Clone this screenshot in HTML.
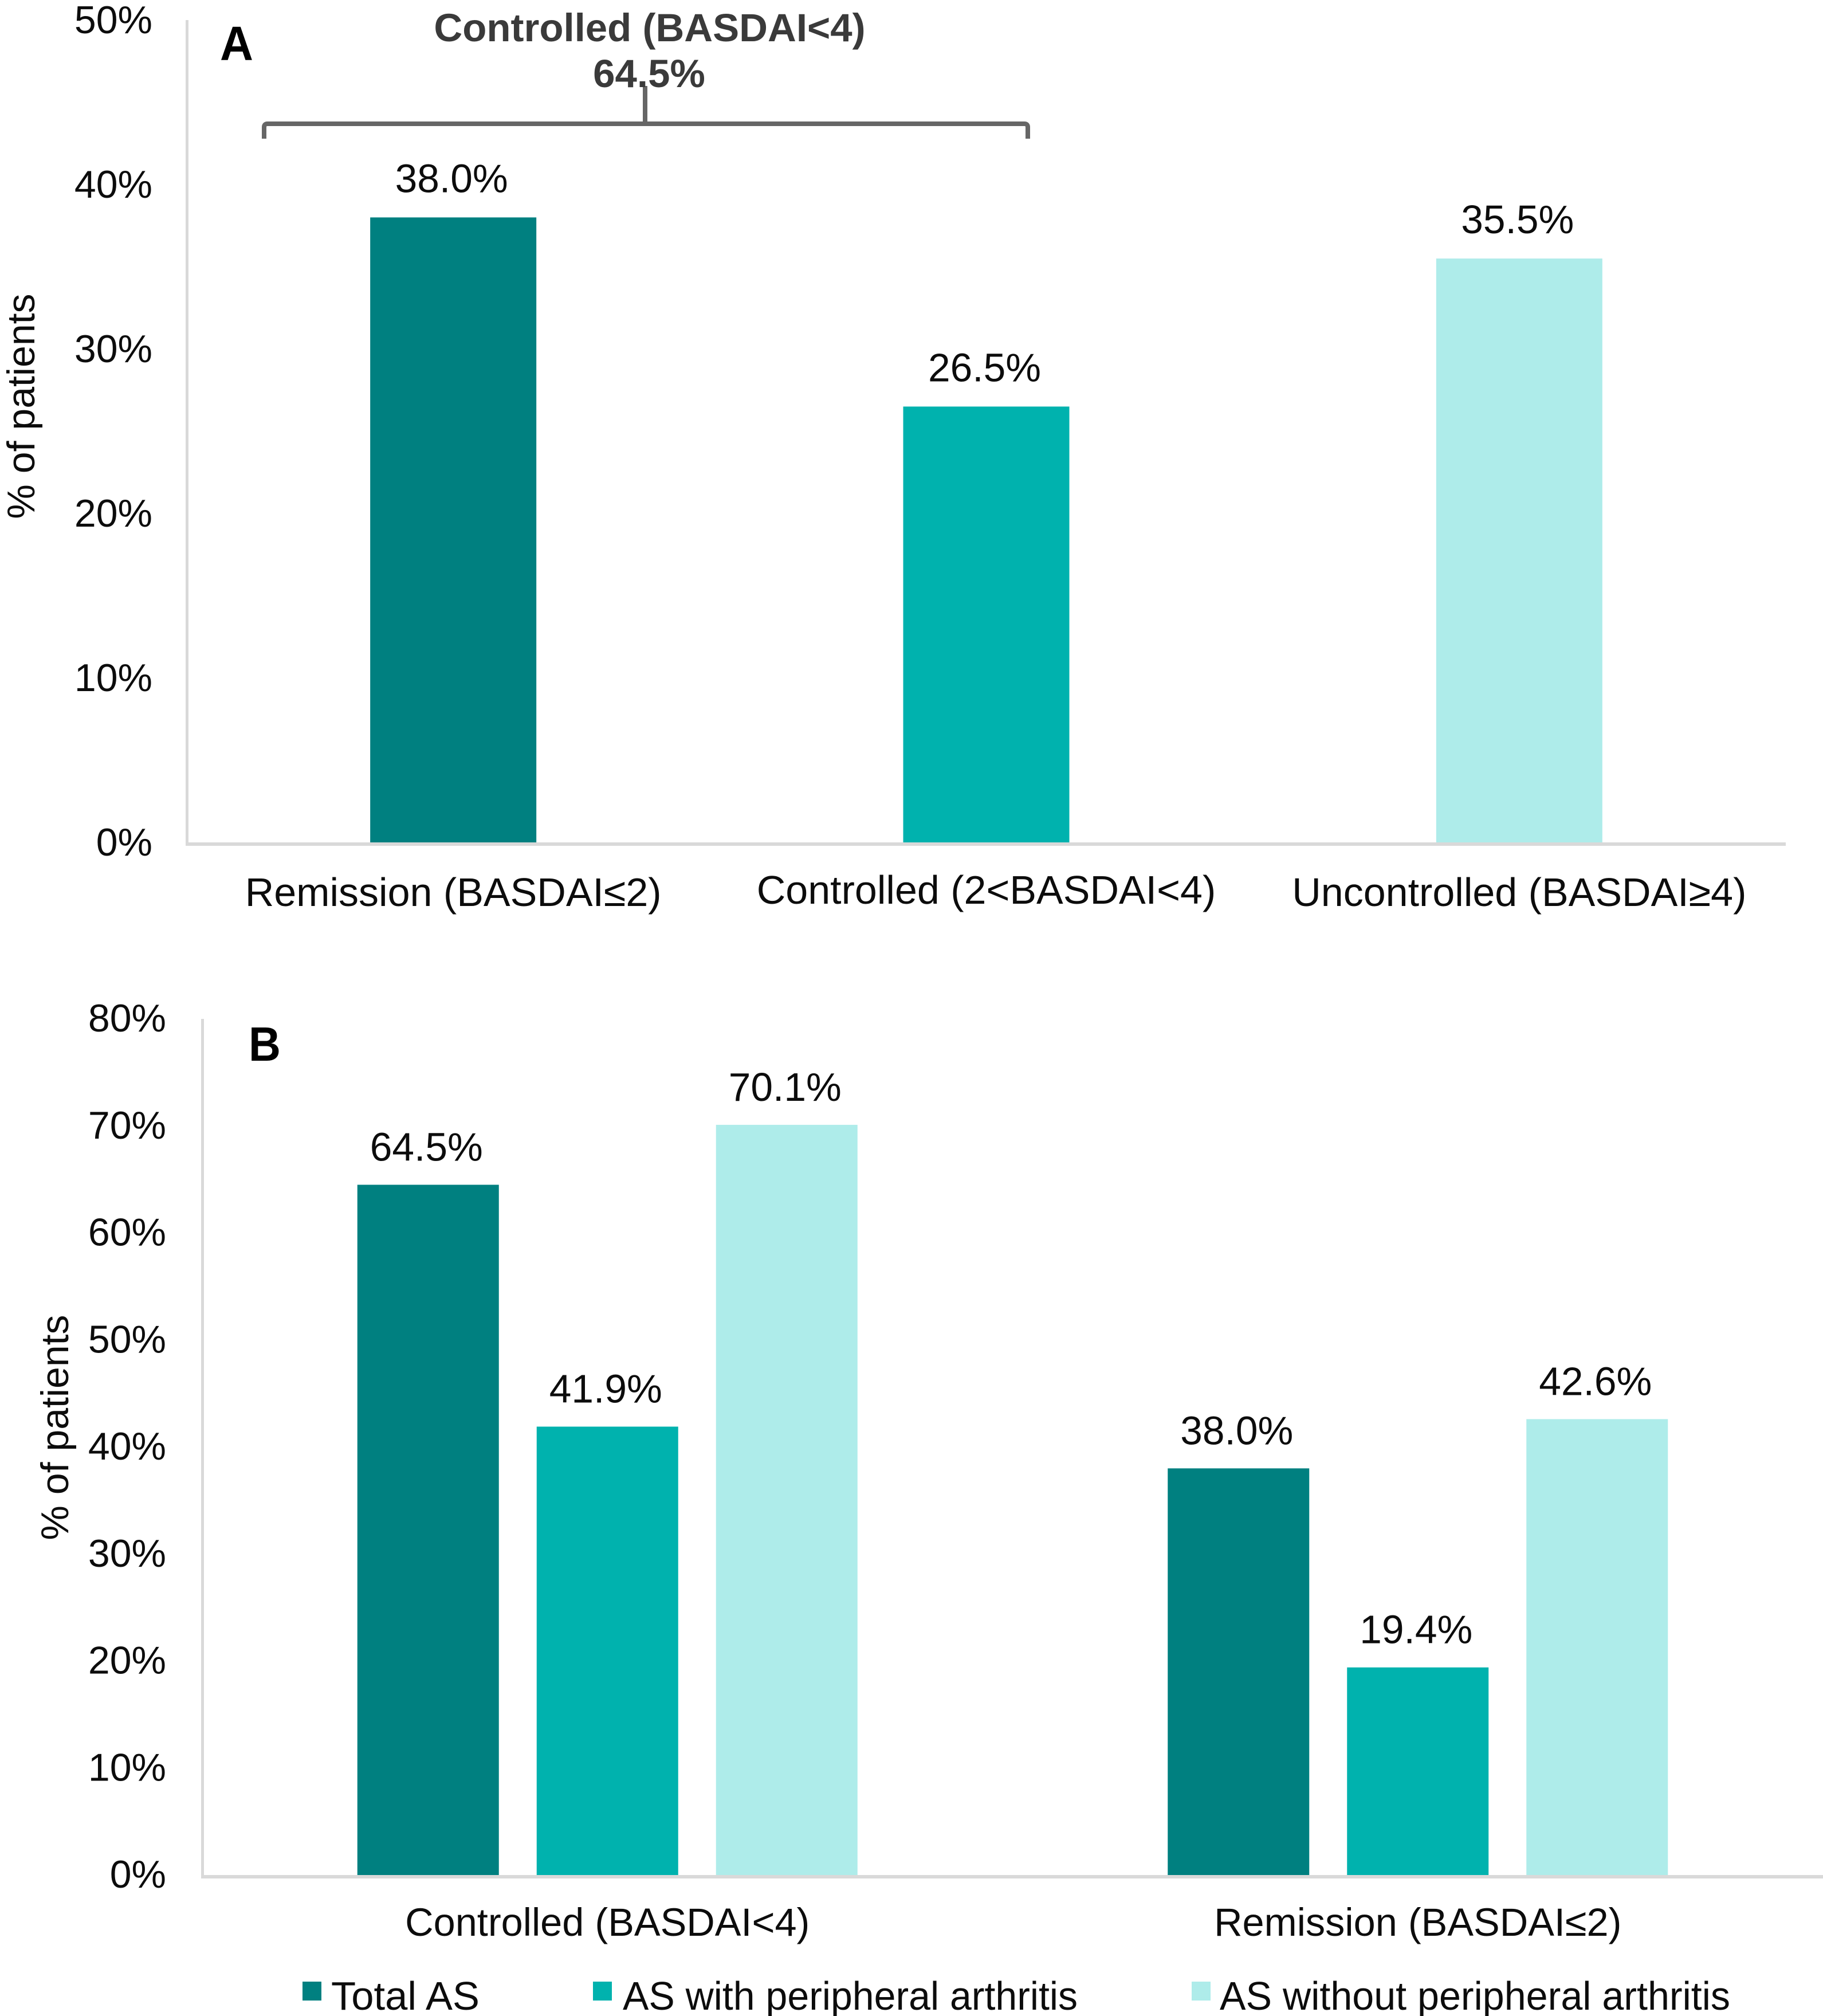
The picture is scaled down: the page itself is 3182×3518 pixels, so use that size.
<!DOCTYPE html>
<html lang="en">
<head>
<meta charset="utf-8">
<title>BASDAI disease control charts</title>
<style>
html,body{margin:0;padding:0;background:#fff;width:3182px;height:3518px;overflow:hidden}
svg{display:block}
text{font-family:"Liberation Sans",Arial,sans-serif;fill:#0c0c0c}
.tick,.ytitle{font-size:68px}
.val{font-size:69.5px}
.cat,.leg{font-size:70px}
.cat-b{font-size:68.5px}
.bold{font-weight:bold;fill:#3a3a3a;font-size:69px}
.letter{font-weight:bold;font-size:84px;fill:#000}
</style>
</head>
<body>
<svg id="figure" xmlns="http://www.w3.org/2000/svg" width="3182" height="3518" viewBox="0 0 3182 3518">
  <g id="panel-a">
    <text class="letter" x="384" y="105" textLength="58" lengthAdjust="spacingAndGlyphs">A</text>
    <text class="ytitle" transform="translate(60,709) rotate(-90)" text-anchor="middle">% of patients</text>
    <g fill="none" stroke="#666666" stroke-width="8">
      <path d="M461 242 L461 222 Q461 216 467 216 L1788 216 Q1794 216 1794 222 L1794 242"/>
      <path d="M1126 150 L1126 216"/>
    </g>
    <text class="bold" x="1134" y="72" text-anchor="middle">Controlled (BASDAI&lt;4)</text>
    <text class="bold" x="1133" y="152" text-anchor="middle">64.5%</text>
  </g>
  <g id="panel-b">
    <text class="letter" x="434" y="1851" textLength="56" lengthAdjust="spacingAndGlyphs">B</text>
    <text class="ytitle" transform="translate(119,2491) rotate(-90)" text-anchor="middle">% of patients</text>
  </g>
  <g id="legend">
    <g>
      <rect x="528" y="3458" width="33" height="33" fill="#008080"/>
      <text class="leg" x="578" y="3507" textLength="259" lengthAdjust="spacingAndGlyphs">Total AS</text>
    </g>
    <g>
      <rect x="1035" y="3458" width="33" height="33" fill="#00b2ae"/>
      <text class="leg" x="1087" y="3507" textLength="794" lengthAdjust="spacingAndGlyphs">AS with peripheral arthritis</text>
    </g>
    <g>
      <rect x="2080" y="3458" width="33" height="33" fill="#aeecea"/>
      <text class="leg" x="2129" y="3507" textLength="891" lengthAdjust="spacingAndGlyphs">AS without peripheral arthritis</text>
    </g>
  </g>
</svg>
<script>
// Panel A data
const catsA = ['Remission (BASDAI≤2)', 'Controlled (2<BASDAI<4)', 'Uncontrolled (BASDAI≥4)'];
const valuesA = [38.0, 26.5, 35.5];
const ticksA = [0, 10, 20, 30, 40, 50];
// Panel B data
const catsB = ['Controlled (BASDAI<4)', 'Remission (BASDAI≤2)'];
const seriesNames = ['total-as', 'with-arthritis', 'without-arthritis'];
const totalAS = [64.5, 38.0];
const withArthritis = [41.9, 19.4];
const withoutArthritis = [70.1, 42.6];
const ticksB = [0, 10, 20, 30, 40, 50, 60, 70, 80];

const NS = 'http://www.w3.org/2000/svg';
const colors = ['#008080', '#00b2ae', '#aeecea'];
const panelA = document.getElementById('panel-a');
const panelB = document.getElementById('panel-b');

function mk(parent, tag, attrs, txt) {
  const el = document.createElementNS(NS, tag);
  for (const k in attrs) el.setAttribute(k, attrs[k]);
  if (txt !== undefined) el.textContent = txt;
  parent.appendChild(el);
  return el;
}

// Axis functions, panel A
const ax = {left: 326, right: 3117, top: 35, base: 1470, max: 50};
const yA = v => ax.base - (ax.base - ax.top) * v / ax.max;
const xA = i => ax.left + (ax.right - ax.left) * (i + 0.5) / catsA.length;
// Axis functions, panel B
const bx = {left: 353, right: 3182, top: 1778, base: 3272, max: 80};
const yB = v => bx.base - (bx.base - bx.top) * v / bx.max;
const xB = (i, s) => bx.left + (bx.right - bx.left) * (i + 0.5) / catsB.length + (s - 1) * 313;

function axes(parent, a, prefix) {
  const yl = mk(parent, 'rect', {x: a.left - 2, y: a.top, width: 5, height: a.base - a.top + 5, fill: '#d9d9d9'});
  
  
  const xl = mk(parent, 'rect', {x: a.left - 2, y: a.base, width: a.right - a.left + 2, height: 6, fill: '#d9d9d9'});
  
  
}
axes(panelA, ax, 'panel-a');
axes(panelB, bx, 'panel-b');

ticksA.forEach(t => {
  const el = mk(panelA, 'text', {class: 'tick', x: 266, y: yA(t) + 23, 'text-anchor': 'end'}, t + '%');
  
  
});
valuesA.forEach((v, i) => {
  const w = 290;
  const bar = mk(panelA, 'rect', {x: xA(i) - w / 2, y: yA(v), width: w, height: ax.base - yA(v), fill: colors[i]});
  
  
  const lab = mk(panelA, 'text', {class: 'val', x: xA(i) - 3, y: yA(v) - 44, 'text-anchor': 'middle'}, v.toFixed(1) + '%');
  
  
  const cat = mk(panelA, 'text', {class: 'cat', x: xA(i), y: i === 1 ? 1577 : 1581, 'text-anchor': 'middle'}, catsA[i]);
  
  
});

ticksB.forEach(t => {
  const el = mk(panelB, 'text', {class: 'tick', x: 290, y: yB(t) + 22, 'text-anchor': 'end'}, t + '%');
  
  
});
[totalAS, withArthritis, withoutArthritis].forEach((series, s) => {
  series.forEach((v, i) => {
    const w = 247;
    const bar = mk(panelB, 'rect', {x: xB(i, s) - w / 2, y: yB(v), width: w, height: bx.base - yB(v), fill: colors[s]});
    
    
    const lab = mk(panelB, 'text', {class: 'val', x: xB(i, s) - 3, y: yB(v) - 42, 'text-anchor': 'middle'}, v.toFixed(1) + '%');
    
    
  });
});
catsB.forEach((c, i) => {
  const cat = mk(panelB, 'text', {class: 'cat cat-b', x: xB(i, 1), y: 3378, 'text-anchor': 'middle'}, c);
  
  
});
</script>
</body>
</html>
